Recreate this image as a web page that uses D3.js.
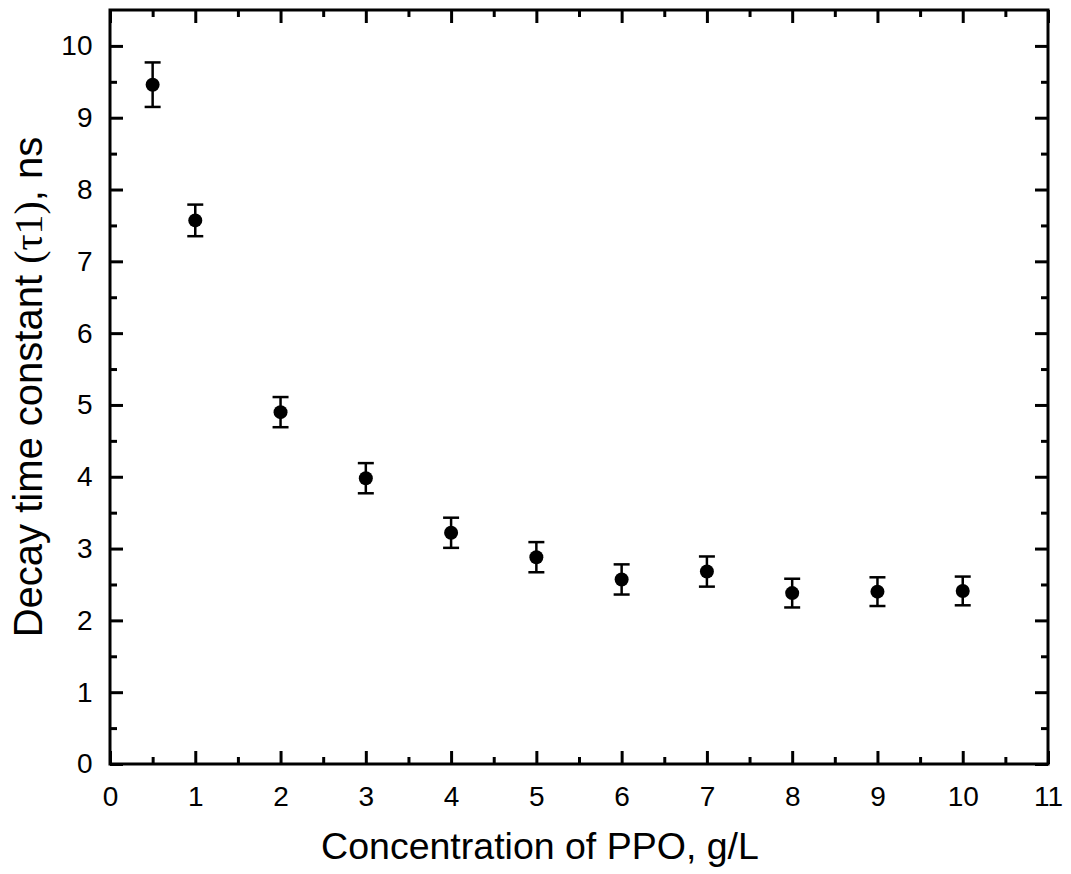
<!DOCTYPE html>
<html>
<head>
<meta charset="utf-8">
<script src="https://cdn.jsdelivr.net/npm/d3@7"></script>
<style>
  body { margin: 0; background: #fff; }
  text { font-family: "Liberation Sans", Arial, sans-serif; fill: #000; }
</style>
</head>
<body>
<script>
// PPO concentration (g/L), decay constant tau1 (ns) and its error
var conc = [0.5, 1, 2, 3, 4, 5, 6, 7, 8, 9, 10];
var tau = [9.46, 7.57, 4.90, 3.98, 3.22, 2.88, 2.57, 2.68, 2.38, 2.40, 2.41];
var tauErr = [0.31, 0.22, 0.21, 0.21, 0.21, 0.21, 0.21, 0.21, 0.20, 0.20, 0.20];

var xTicks = [0, 1, 2, 3, 4, 5, 6, 7, 8, 9, 10, 11];
var yTicks = [0, 1, 2, 3, 4, 5, 6, 7, 8, 9, 10];

var svgWidth = 1071, svgHeight = 874;
var margin = {top: 10, left: 110, right: 23, bottom: 110};
var width = svgWidth - margin.left - margin.right;
var height = svgHeight - margin.top - margin.bottom;

var svg = d3.select("body").append("svg")
    .attr("width", svgWidth)
    .attr("height", svgHeight)
    .append("g")
        .attr("transform", "translate(" + margin.left + "," + margin.top + ")");

var xScale = d3.scaleLinear().domain([0, 11]).range([0, width]);
var yScale = d3.scaleLinear().domain([0, 10.5]).range([height, 0]);

var xMinor = d3.range(0.5, 11, 1);
var yMinor = d3.range(0.5, 10.5, 1);

function styleAxis(g) {
    g.attr("font-size", 28).attr("font-family", "Liberation Sans, Arial, sans-serif");
    g.select(".domain").remove();
    g.selectAll("line").attr("stroke", "#000").attr("stroke-width", 3);
}

// bottom axis
svg.append("g")
    .attr("transform", "translate(0," + height + ")")
    .call(d3.axisBottom(xScale).tickValues(xTicks).tickSize(-13).tickPadding(22).tickFormat(d3.format("d")))
    .call(styleAxis);
svg.append("g")
    .attr("transform", "translate(0," + height + ")")
    .call(d3.axisBottom(xScale).tickValues(xMinor).tickSize(-7).tickFormat(""))
    .call(styleAxis);

// top axis
svg.append("g")
    .call(d3.axisTop(xScale).tickValues(xTicks).tickSize(-13).tickFormat(""))
    .call(styleAxis);
svg.append("g")
    .call(d3.axisTop(xScale).tickValues(xMinor).tickSize(-7).tickFormat(""))
    .call(styleAxis);

// left axis
svg.append("g")
    .call(d3.axisLeft(yScale).tickValues(yTicks).tickSize(-13).tickPadding(17.5).tickFormat(d3.format("d")))
    .call(styleAxis);
svg.append("g")
    .call(d3.axisLeft(yScale).tickValues(yMinor).tickSize(-7).tickFormat(""))
    .call(styleAxis);

// right axis
svg.append("g")
    .attr("transform", "translate(" + width + ",0)")
    .call(d3.axisRight(yScale).tickValues(yTicks).tickSize(-13).tickFormat(""))
    .call(styleAxis);
svg.append("g")
    .attr("transform", "translate(" + width + ",0)")
    .call(d3.axisRight(yScale).tickValues(yMinor).tickSize(-7).tickFormat(""))
    .call(styleAxis);

// frame
svg.append("rect")
    .attr("x", 0).attr("y", 0)
    .attr("width", width).attr("height", height)
    .attr("fill", "none")
    .attr("stroke", "#000")
    .attr("stroke-width", 3);

var data = conc.map(function(c, i) {
    return {x: c, y: tau[i], e: tauErr[i]};
});

// error bars
var bars = svg.selectAll(".err")
    .data(data)
    .enter()
    .append("g")
        .attr("class", "err")
        .attr("stroke", "#000")
        .attr("stroke-width", 2.5);

bars.append("line")
    .attr("x1", d => xScale(d.x)).attr("x2", d => xScale(d.x))
    .attr("y1", d => yScale(d.y - d.e)).attr("y2", d => yScale(d.y + d.e));
bars.append("line")
    .attr("x1", d => xScale(d.x) - 8).attr("x2", d => xScale(d.x) + 8)
    .attr("y1", d => yScale(d.y + d.e)).attr("y2", d => yScale(d.y + d.e));
bars.append("line")
    .attr("x1", d => xScale(d.x) - 8).attr("x2", d => xScale(d.x) + 8)
    .attr("y1", d => yScale(d.y - d.e)).attr("y2", d => yScale(d.y - d.e));

svg.selectAll("circle")
    .data(data)
    .enter()
    .append("circle")
        .attr("cx", d => xScale(d.x))
        .attr("cy", d => yScale(d.y))
        .attr("r", 7)
        .attr("fill", "#000");

// axis titles
svg.append("text")
    .text("Concentration of PPO, g/L")
    .attr("text-anchor", "middle")
    .attr("font-size", 37.5)
    .attr("x", 540 - margin.left)
    .attr("y", height + 95);

var yTitle = svg.append("text")
    .attr("text-anchor", "middle")
    .attr("font-size", 40)
    .attr("transform", "translate(" + (42 - margin.left) + "," + (height / 2) + ") rotate(-90)");
yTitle.append("tspan").text("Decay time constant ");
yTitle.append("tspan").text("(\u03c41)").attr("font-family", "Liberation Serif, Times New Roman, serif");
yTitle.append("tspan").text(", ns");
</script>
</body>
</html>
